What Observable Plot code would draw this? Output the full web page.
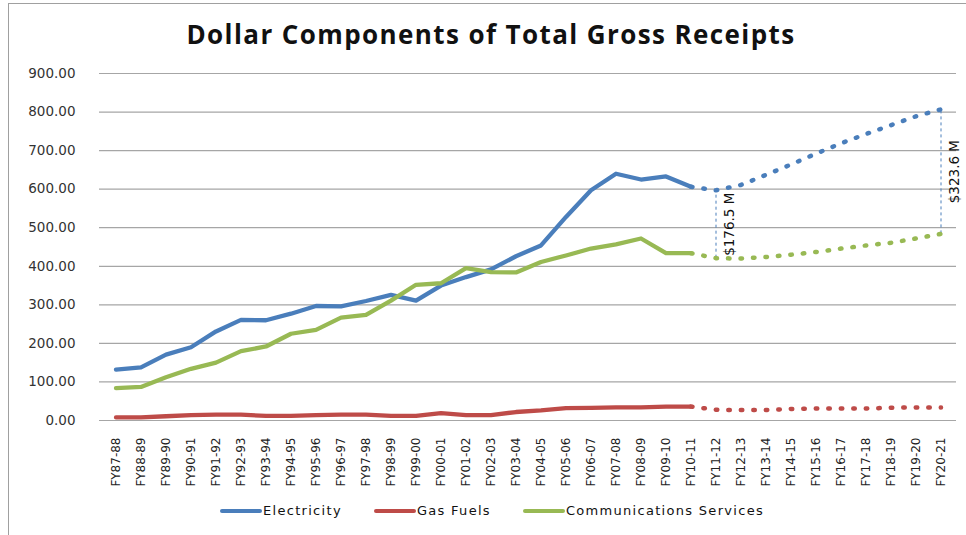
<!DOCTYPE html>
<html>
<head>
<meta charset="utf-8">
<script src="https://cdn.jsdelivr.net/npm/d3@7"></script>
<script src="https://cdn.jsdelivr.net/npm/@observablehq/plot@0.6"></script>
<style>
  html, body { margin: 0; padding: 0; background: #fff; }
  #wrap { position: relative; width: 966px; height: 535px; overflow: hidden; font-family: "DejaVu Sans", sans-serif; }
  #frame { position: absolute; left: 8px; top: 3px; width: 1000px; height: 600px; border-left: 1.5px solid #a0a0a0; border-top: 1.5px solid #a0a0a0; }
  #title { position: absolute; left: 0; width: 982px; top: 16px; text-align: center; font-family: "Open Sans", sans-serif; font-weight: bold; font-size: 26px; color: #111; letter-spacing: 1.4px; }
  #chart { position: absolute; left: 0; top: 60px; }
  #legend { position: absolute; top: 503px; left: 220px; display: flex; align-items: center; gap: 32px; font-size: 13px; letter-spacing: 1.3px; color: #111; }
  .item { display: flex; align-items: center; }
  .sw { width: 42px; height: 4px; border-radius: 2px; margin-right: 1px; }
</style>
</head>
<body>
<div id="wrap">
  <div id="frame"></div>
  <div id="title">Dollar Components of Total Gross Receipts</div>
  <div id="chart"></div>
  <div id="legend"></div>
</div>
<script>
// Category labels (fiscal years)
const years = ["FY87-88","FY88-89","FY89-90","FY90-91","FY91-92","FY92-93","FY93-94","FY94-95","FY95-96","FY96-97",
  "FY97-98","FY98-99","FY99-00","FY00-01","FY01-02","FY02-03","FY03-04","FY04-05","FY05-06","FY06-07",
  "FY07-08","FY08-09","FY09-10","FY10-11","FY11-12","FY12-13","FY13-14","FY14-15","FY15-16","FY16-17",
  "FY17-18","FY18-19","FY19-20","FY20-21"];

// Actual values FY87-88 .. FY10-11
const electricityActual = [132,138,171,190,231,261,260,277,297,296,310,326,311,350,372,392,426,454,528,597,640,625,633,606];
const gasActual         = [8,8,11,14,15,15,12,12,14,15,15,12,12,19,14,14,22,26,32,33,34,34,36,36];
const commsActual       = [84,87,112,134,150,180,192,225,235,267,274,311,352,356,395,385,384,411,428,446,457,472,434,434];

// Forecast values FY11-12 .. FY20-21
const electricityForecast = [597,611,637,664,692,719,743,766,789,807];
const gasForecast         = [28,27,27,30,31,31,31,33,34,34];
const commsForecast       = [421,420,424,430,437,446,454,461,472,484];

// Annotations (gap between electricity and communications)
const annoYears  = ["FY11-12","FY20-21"];
const annoLabels = ["$176.5 M","$323.6 M"];

const yTicks = [0,100,200,300,400,500,600,700,800,900];

const seriesNames  = ["Electricity","Gas Fuels","Communications Services"];
const seriesColors = ["#4a7ebb","#be4b48","#98b954"];

const actualSets   = [electricityActual, gasActual, commsActual];
const forecastSets = [electricityForecast, gasForecast, commsForecast];

const nA = electricityActual.length;
const actualRows = [];
const forecastRows = [];
seriesNames.forEach((s, i) => {
  actualSets[i].forEach((v, j) => actualRows.push({series: s, year: years[j], value: v}));
  forecastRows.push({series: s, year: years[nA - 1], value: actualSets[i][nA - 1]});
  forecastSets[i].forEach((v, j) => forecastRows.push({series: s, year: years[nA + j], value: v}));
});

const annoRows = annoYears.map((yr, k) => {
  const idx = years.indexOf(yr) - nA;
  const top = electricityForecast[idx], bottom = commsForecast[idx];
  return {year: yr, top, bottom, mid: (top + bottom) / 2, label: annoLabels[k]};
});

const color = {domain: seriesNames, range: seriesColors};

const chart = Plot.plot({
  width: 966,
  height: 450,
  marginTop: 13,
  marginBottom: 90,
  marginLeft: 99,
  marginRight: 10,
  style: {fontFamily: "DejaVu Sans, sans-serif", background: "transparent", overflow: "visible"},
  x: {type: "band", domain: years, padding: 0},
  y: {domain: [0, 900]},
  color,
  marks: [
    Plot.gridY(yTicks, {stroke: "#a6a6a6", strokeOpacity: 1, strokeWidth: 1.2}),
    Plot.axisY({ticks: yTicks, tickSize: 0, tickPadding: 24, tickFormat: d3.format(".2f"), label: null, fontSize: 13.5, fill: "#333", style: {letterSpacing: "2px"}}),
    Plot.axisX({tickRotate: -90, tickSize: 0, tickPadding: 17, label: null, fontSize: 12, fill: "#222"}),
    Plot.ruleX(annoRows, {x: "year", y1: "bottom", y2: "top", stroke: "#4a7ebb", strokeWidth: 1, strokeDasharray: "3,3"}),
    Plot.line(actualRows, {x: "year", y: "value", z: "series", stroke: "series", strokeWidth: 4.3, strokeLinecap: "round", strokeLinejoin: "round", curve: "linear"}),
    Plot.line(forecastRows, {x: "year", y: "value", z: "series", stroke: "series", strokeWidth: 4.5, strokeLinecap: "round", strokeDasharray: "1.5,11", curve: "linear"}),
    Plot.text(annoRows, {x: "year", y: "mid", text: "label", rotate: -90, textAnchor: "middle", lineAnchor: "middle", dx: 14, fontSize: 13.5, fill: "#111"})
  ]
});
document.getElementById("chart").appendChild(chart);

const legend = document.getElementById("legend");
seriesNames.forEach((s, i) => {
  const it = document.createElement("div");
  it.className = "item";
  const sw = document.createElement("div");
  sw.className = "sw";
  sw.style.background = seriesColors[i];
  const tx = document.createElement("span");
  tx.textContent = s;
  it.appendChild(sw);
  it.appendChild(tx);
  legend.appendChild(it);
});
</script>
</body>
</html>
